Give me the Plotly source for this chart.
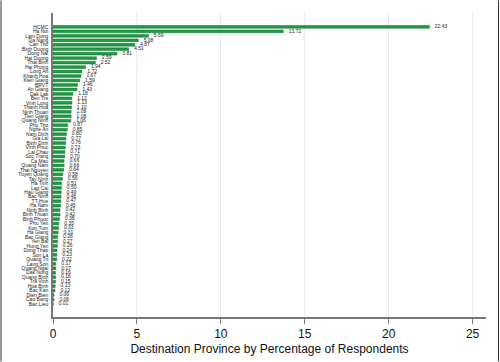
import plotly.graph_objects as go

provinces = ["HCMC","Ha Noi","Lam Dong","Da Nang","Can Tho","Binh Duong","Dong Nai","Hai Duong","Thai Binh",
             "Hai Phong","Long An","Khanh Hoa","Kien Giang","BRVT","An Giang","Dak Lak","Ben Tre","Vinh Long",
             "Thanh Hoa","Ninh Thuan","Tien Giang","Quang Ninh","Phu Tho","Nghe An","Nam Dinh","Gia Lai",
             "Binh Dinh","Vinh Phuc","Lai Chau","Soc Trang","Ca Mau","Quang Nam","Thai Nguyen","Tuyen Quang",
             "Tay Ninh","Ha Tinh","Lao Cai","Hau Giang","Bac Ninh","TT-Hue","Ha Nam","Ninh Binh","Binh Thuan",
             "Binh Phuoc","Phu Yen","Kon Tum","Ha Giang","Bac Giang","Yen Bai","Hung Yen","Dong Thap","Son La",
             "Quang Tri","Lang Son","Quang Ngai","Dak Nong","Quang Binh","Tra Vinh","Hoa Binh","Bac Kan",
             "Dien Bien","Cao Bang","Bac Lieu"]
percent = [22.43,13.72,5.69,5.08,4.87,4.51,3.81,2.59,2.52,
           1.94,1.72,1.67,1.59,1.46,1.43,1.18,1.12,1.13,
           1.10,1.08,1.08,1.06,0.87,0.85,0.80,0.77,
           0.76,0.73,0.71,0.70,0.66,0.66,0.64,0.58,
           0.56,0.51,0.50,0.49,0.48,0.47,0.45,0.42,0.42,
           0.38,0.35,0.33,0.31,0.28,0.27,0.26,0.24,0.23,
           0.22,0.17,0.17,0.16,0.16,0.15,0.13,0.12,
           0.06,0.06,0.01]
x_ticks = [0, 5, 10, 15, 20, 25]
x_title = "Destination Province by Percentage of Respondents"

fig = go.Figure()
fig.add_trace(go.Bar(
    x=percent, y=provinces, orientation="h",
    marker=dict(color="#1f9a45", line=dict(color="#12732f", width=0.5)),
    width=0.62,
    hoverinfo="x+y",
))
fig.add_trace(go.Scatter(
    x=percent, y=provinces, mode="markers+text",
    marker=dict(size=7, color="rgba(0,0,0,0)"),
    text=[f"{v:.2f}" for v in percent],
    textposition="middle right",
    textfont=dict(size=5, color="#222222", family="Arial, Liberation Sans"),
    cliponaxis=False, hoverinfo="skip",
))

n = len(provinces)
L, R, T, B = 53, 14, 13, 45
W, H = 500, 362
pw, ph = W - L - R, H - T - B
fig.update_layout(
    width=W, height=H,
    margin=dict(l=L, r=R, t=T, b=B, autoexpand=False),
    paper_bgcolor="white", plot_bgcolor="white",
    showlegend=False,
    font=dict(family="Arial, Liberation Sans, sans-serif", color="#222222"),
    xaxis=dict(
        range=[0, 25.8], tickvals=x_ticks, ticks="outside", ticklen=5, tickwidth=1, tickcolor="#777777",
        showgrid=True, gridcolor="#ececec", gridwidth=1, zeroline=False,
        showline=True, linecolor="#777777", linewidth=1.5,
        tickfont=dict(size=12, color="#111111"),
        title=dict(text=x_title, font=dict(size=12, color="#111111"), standoff=4),
        automargin=False,
    ),
    yaxis=dict(
        type="category", categoryorder="array", categoryarray=provinces,
        tickmode="array", tickvals=provinces, ticktext=provinces,
        range=[n - 1 + 2.9, -3.1],
        showline=True, linecolor="#777777", linewidth=1.5,
        ticks="", showgrid=False, zeroline=False,
        tickfont=dict(size=5, color="#222222"),
        ticklabelstandoff=2,
        automargin=False,
    ),
    bargap=0.35,
)
# thin dark side edges of the frame
for xe in (-(L - 1.0) / pw, 1 + (R - 1.5) / pw):
    fig.add_shape(type="line", xref="paper", yref="paper",
                  x0=xe, x1=xe, y0=-(B - 0.5) / ph, y1=1 + (T - 0.5) / ph,
                  line=dict(color="#333333", width=1))
fig.write_html("out.html", config={"displayModeBar": False},
               post_script="document.body.style.margin='0';document.body.style.overflow='hidden';")
